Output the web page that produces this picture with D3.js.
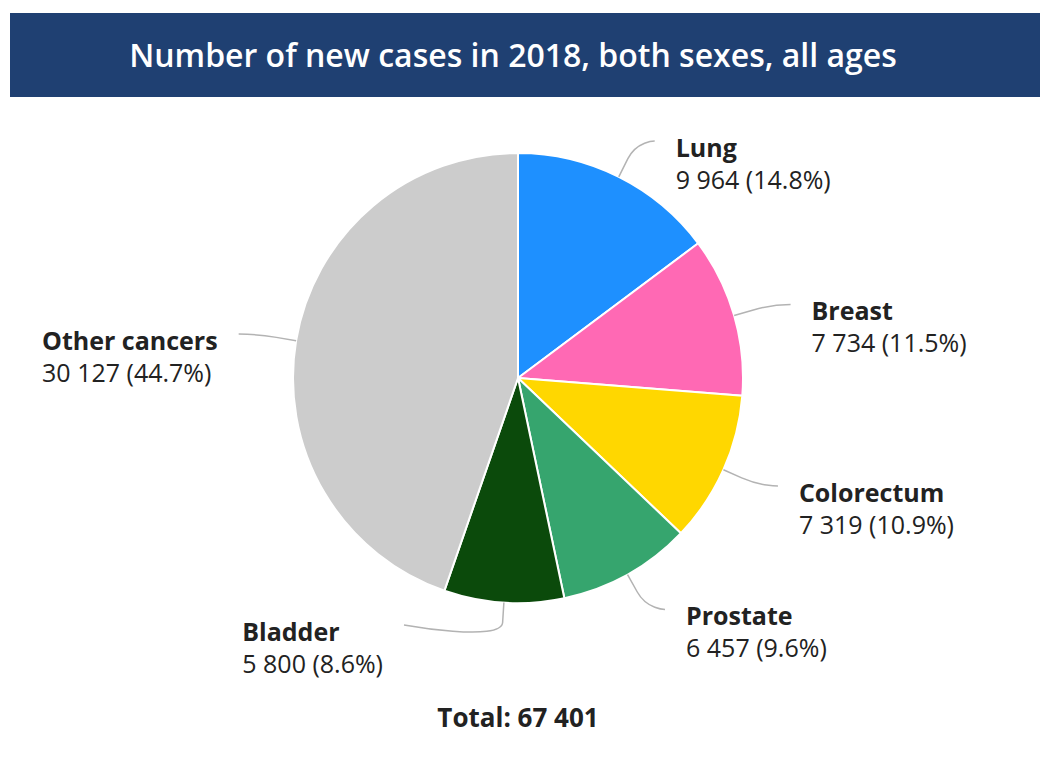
<!DOCTYPE html>
<html>
<head>
<meta charset="utf-8">
<script src="https://cdn.jsdelivr.net/npm/d3@7"></script>
<style>
  html, body { margin: 0; padding: 0; background: #fff; }
  svg { display: block; font-family: "Open Sans", "Noto Sans", sans-serif; }
</style>
</head>
<body>
<svg id="chart" width="1040" height="776"></svg>
<script>
// ---- data ----
const titleText = "Number of new cases in 2018, both sexes, all ages";
const categories = ["Lung", "Breast", "Colorectum", "Prostate", "Bladder", "Other cancers"];
const values = [9964, 7734, 7319, 6457, 5800, 30127];
const colors = ["#1E90FF", "#FF69B4", "#FFD700", "#36A56E", "#0B4A0B", "#CCCCCC"];

// ---- layout ----
const W = 1040, H = 776;
const cx = 518, cy = 378, r = 225;
const labelR = 265;       // radius of label circle
const breakR = r + 20;    // connector bend radius
const labelMaxY = 625;    // lowest connector end
const labelGap = 18;      // horizontal gap past label circle
const textGap = 21;       // gap from connector end to text
const textColor = "#222";

const svg = d3.select("#chart");

// title bar
svg.append("rect").attr("x", 10).attr("y", 13).attr("width", W - 10).attr("height", 84).attr("fill", "#1F4072");
svg.append("text").attr("x", 513).attr("y", 67).attr("text-anchor", "middle")
  .attr("fill", "#fff").attr("font-size", 32).attr("font-weight", 600).text(titleText);

const total = d3.sum(values);
const fmt = n => d3.format(",")(n).replace(/,/g, " ");
const data = categories.map((c, i) => ({ name: c, value: values[i], color: colors[i] }));

const pie = d3.pie().value(d => d.value).sort(null).startAngle(0).endAngle(2 * Math.PI);
const arcs = pie(data);
const arc = d3.arc().innerRadius(0).outerRadius(r);

const g = svg.append("g").attr("transform", `translate(${cx},${cy})`);
g.selectAll("path.slice").data(arcs).enter().append("path")
  .attr("class", "slice")
  .attr("d", arc)
  .attr("fill", d => d.data.color)
  .attr("stroke", "#fff").attr("stroke-width", 2).attr("stroke-linejoin", "round");

const polar = (a, rad) => [cx + rad * Math.sin(a), cy - rad * Math.cos(a)];

arcs.forEach(d => {
  const a = (d.startAngle + d.endAngle) / 2;
  const left = Math.sin(a) < 0;
  const side = left ? -1 : 1;
  const T = polar(a, r);
  const B = polar(a, breakR);
  let ey = cy - labelR * Math.cos(a);
  ey = Math.min(ey, labelMaxY);
  const dy = ey - cy;
  const ex = cx + side * (Math.sqrt(Math.max(0, labelR * labelR - dy * dy)) + labelGap);
  const p = d3.path();
  p.moveTo(ex, ey);
  p.bezierCurveTo(ex, ey, 2 * B[0] - T[0], 2 * B[1] - T[1], B[0], B[1]);
  p.lineTo(T[0], T[1]);
  svg.append("path").attr("d", p.toString()).attr("fill", "none")
    .attr("stroke", "#b3b3b3").attr("stroke-width", 1.5);

  const lg = svg.append("g");
  const t1 = lg.append("text").attr("y", ey + 16).attr("font-size", 25).attr("font-weight", "bold")
    .attr("fill", textColor).text(d.data.name);
  const pct = (d.data.value / total * 100).toFixed(1);
  const t2 = lg.append("text").attr("y", ey + 48).attr("font-size", 25)
    .attr("fill", textColor).text(`${fmt(d.data.value)} (${pct}%)`);
  let tx;
  if (left) {
    const w = Math.max(t1.node().getComputedTextLength(), t2.node().getComputedTextLength());
    tx = ex - textGap - w;
  } else {
    tx = ex + textGap;
  }
  t1.attr("x", tx); t2.attr("x", tx);
});

svg.append("text").attr("x", cx).attr("y", 727).attr("text-anchor", "middle")
  .attr("font-size", 26).attr("font-weight", "bold").attr("fill", textColor)
  .text(`Total: ${fmt(total)}`);
</script>
</body>
</html>
